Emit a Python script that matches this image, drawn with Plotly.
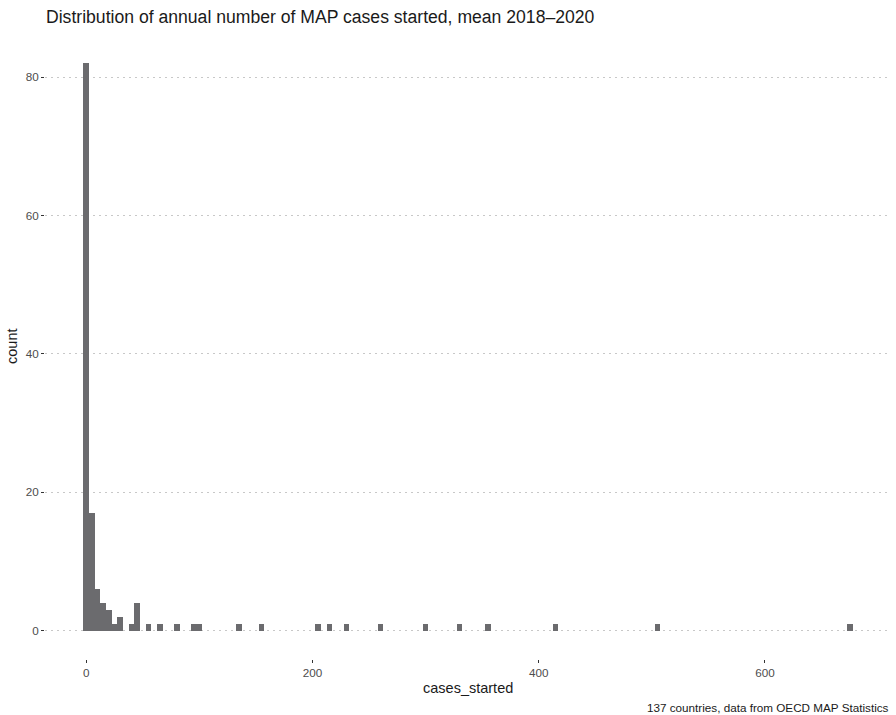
import plotly.graph_objects as go

# Histogram bins (binwidth 5, centred on multiples of 5) of mean annual MAP cases started
bin_width = 5
bin_centers = [0, 5, 10, 15, 20, 25, 30, 40, 45, 55, 65, 80, 95, 100, 135, 155,
               205, 215, 230, 260, 300, 330, 355, 415, 505, 675]
counts = [82, 17, 6, 4, 3, 1, 2, 1, 4, 1, 1, 1, 1, 1, 1, 1,
          1, 1, 1, 1, 1, 1, 1, 1, 1, 1]

x_ticks = [0, 200, 400, 600]
y_ticks = [0, 20, 40, 60, 80]

title_text = "Distribution of annual number of MAP cases started, mean 2018\u20132020"
caption_text = "137 countries, data from OECD MAP Statistics"
x_title = "cases_started"
y_title = "count"

font_family = "Liberation Sans, Arial, Helvetica, sans-serif"
bar_color = "#6b6b6e"

W, H = 896, 715
ML, MR, MT, MB = 45, 5, 35, 56
plot_w = W - ML - MR
plot_h = H - MT - MB

fig = go.Figure(
    go.Bar(
        x=bin_centers,
        y=counts,
        width=bin_width,
        marker=dict(color=bar_color, line=dict(width=0)),
        hoverinfo="x+y",
    )
)

fig.update_layout(
    width=W,
    height=H,
    margin=dict(l=ML, r=MR, t=MT, b=MB),
    plot_bgcolor="white",
    paper_bgcolor="white",
    font=dict(family=font_family, color="#1a1a1a"),
    showlegend=False,
    bargap=0,
    title=dict(
        text=title_text,
        xref="container", yref="container",
        x=46 / W, xanchor="left",
        y=1 - 17 / H, yanchor="middle",
        font=dict(size=17.6, color="#1a1a1a"),
    ),
)

fig.update_xaxes(
    range=[-36.5, 711.5],
    tickvals=x_ticks,
    ticks="outside",
    ticklen=3,
    tickwidth=1,
    tickcolor="#333333",
    tickfont=dict(size=11.7, color="#4d4d4d"),
    showgrid=False,
    zeroline=False,
    showline=False,
    automargin=False,
)

fig.update_yaxes(
    range=[-4.1, 86.1],
    tickvals=y_ticks,
    ticks="outside",
    ticklen=3,
    tickwidth=1,
    tickcolor="#333333",
    tickfont=dict(size=11.7, color="#4d4d4d"),
    showgrid=True,
    gridcolor="#c8c8c8",
    gridwidth=1,
    griddash="2px,4px",
    zeroline=False,
    showline=False,
    automargin=False,
)

fig.add_annotation(
    text=x_title, xref="paper", yref="paper",
    x=0.5, y=-(688 - (H - MB)) / plot_h, xanchor="center", yanchor="middle",
    showarrow=False, font=dict(size=14.5, color="#1a1a1a"),
)
fig.add_annotation(
    text=y_title, xref="paper", yref="paper",
    x=(12 - ML) / plot_w, y=0.5, xanchor="center", yanchor="middle", textangle=-90,
    showarrow=False, font=dict(size=14.5, color="#1a1a1a"),
)
fig.add_annotation(
    text=caption_text, xref="paper", yref="paper",
    x=1.0, y=-(707 - (H - MB)) / plot_h, xanchor="right", yanchor="middle",
    showarrow=False, font=dict(size=11.7, color="#1a1a1a"),
)

fig.write_html(
    "out.html",
    config={"displayModeBar": False},
    post_script="document.body.style.margin='0';",
)
